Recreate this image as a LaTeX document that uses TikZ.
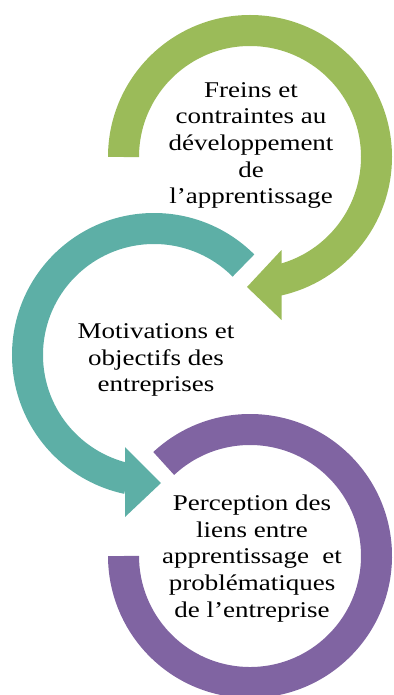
\documentclass[tikz,border=0pt]{standalone}
\usepackage{fontspec}
\setmainfont[FakeStretch=1.2]{Liberation Serif}
\usepackage{color}

\definecolor{ringgreen}{HTML}{9BBB59}
\definecolor{ringteal}{HTML}{5DAFA6}
\definecolor{ringpurple}{HTML}{8064A2}

\begin{document}
\begin{tikzpicture}[x=1pt,y=1pt,
  arcband/.style={line width=31pt},
  every node/.style={align=center,inner sep=0pt,font=\fontsize{22.5}{26.6}\selectfont}]
\useasboundingbox (0,0) rectangle (393,-695);
\coordinate (G) at (250,-157);
\coordinate (T) at (154,-355);
\coordinate (P) at (250,-556);
\draw[arcband,ringpurple] (P) ++(133:126.5) arc[start angle=133,end angle=-180,radius=126.5];
\draw[arcband,ringteal] (T) ++(45:126.5) arc[start angle=45,end angle=258,radius=126.5];
\fill[ringteal] (T) ++(-29,-92) -- ++(36,-36) -- ++(-36,-34) -- cycle;
\draw[arcband,ringgreen] (G) ++(180:126.5) arc[start angle=180,end angle=-78,radius=126.5];
\fill[ringgreen] (G) ++(31.5,-93) -- ++(-34.5,-37) -- ++(34.5,-33) -- cycle;
\node (freins) at (251,-145.5) {Freins et\\contraintes au\\développement\\de\\l’apprentissage};
\node (motivations) at (156,-360) {Motivations et\\objectifs des\\entreprises};
\node (perception) at (252,-558.5) {Perception des\\liens entre\\apprentissage\ \ et\\problématiques\\de l’entreprise};
\end{tikzpicture}
\end{document}
